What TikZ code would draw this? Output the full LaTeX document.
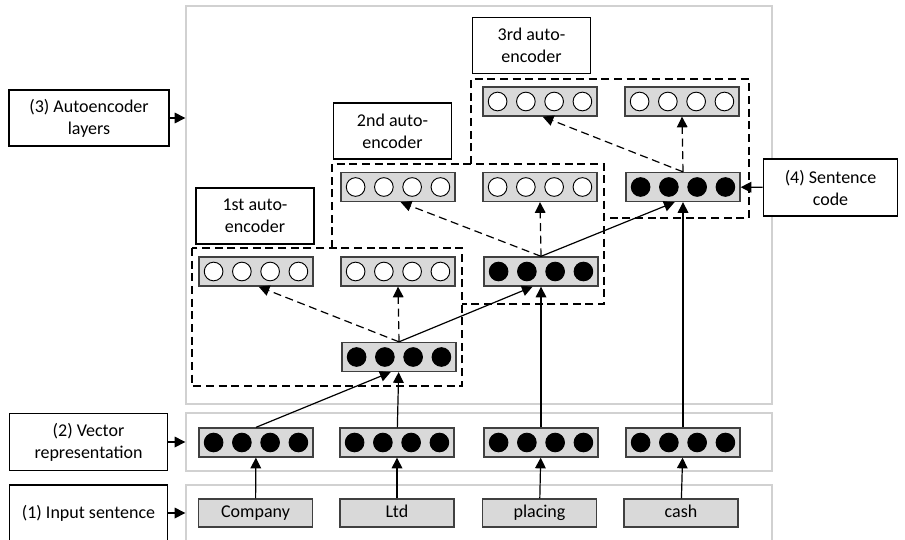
\documentclass[tikz,border=0pt]{standalone}
\usepackage{fontspec}
\setmainfont{Carlito}
\usepackage{tikz}
\usetikzlibrary{arrows.meta}

\begin{document}
\begin{tikzpicture}[x=0.75pt, y=-0.75pt, font=\fontsize{13.5pt}{16.5pt}\selectfont,
  >={Triangle[length=8pt, width=8pt]}]
\tikzstyle{panel}=[draw=black!18, line width=1pt, inner sep=0pt]
\tikzstyle{layer}=[draw=black!75, fill=black!15, line width=1pt, minimum width=85.5pt, minimum height=21.75pt, inner sep=0pt]
\tikzstyle{token}=[layer, minimum height=21pt, text height=0.82em, text depth=0.1em]
\tikzstyle{unit}=[draw, circle, minimum size=14pt, inner sep=0pt, line width=0.7pt]
\tikzstyle{note}=[draw, fill=white, line width=0.8pt, align=center, inner sep=0pt]
\tikzstyle{group}=[line width=0.8pt, dash pattern=on 6pt off 3.5pt]
\tikzstyle{link}=[->, line width=0.9pt]
\tikzstyle{decode}=[dash pattern=on 6pt off 3.5pt]
\useasboundingbox (0,0) rectangle (905,539);

% grey panels
\node[panel, minimum width=439.5pt, minimum height=298.5pt] (top) at (479,205) {};
\node[panel, minimum width=439.5pt, minimum height=43.5pt] (mid) at (479,442) {};
\node[panel, minimum width=439.5pt, minimum height=45pt] (bot) at (479,515) {};

% dashed groups
\draw[group] (192,248) rectangle (462,386);
\draw[group] (332,248) -- (332,164) -- (604,164) -- (604,304) -- (462,304);
\draw[group] (471,164) -- (471,79) -- (749,79) -- (749,218) -- (604,218);

% labels
\node[note, minimum width=120pt, minimum height=42pt] (n3) at (89,118) {(3) Autoencoder\\layers};
\node[note, minimum width=119pt, minimum height=43pt] (n2) at (88.5,442) {(2) Vector\\representation};
\node[note, minimum width=119pt, minimum height=42pt] (n1) at (88.5,513) {(1) Input sentence};
\node[note, minimum width=101pt, minimum height=42.75pt] (n4) at (830.5,187.5) {(4) Sentence\\code};
\node[note, minimum width=88.5pt, minimum height=42pt] (e1) at (255,216) {1st auto-\\encoder};
\node[note, minimum width=88.5pt, minimum height=42pt] (e2) at (392.5,131) {2nd auto-\\encoder};
\node[note, minimum width=88.5pt, minimum height=42pt] (e3) at (531.5,45.5) {3rd auto-\\encoder};

% words
\node[token] (w1) at (255.5,513) {Company};
\node[token] (w2) at (397,513) {Ltd};
\node[token] (w3) at (539.5,513) {placing};
\node[token] (w4) at (681,513) {cash};

% vectors and layers
\node[layer] (v1) at (256,442.5) {};
\node[layer] (v2) at (397,442.5) {};
\node[layer] (v3) at (541,442.5) {};
\node[layer] (v4) at (683,442.5) {};
\node[layer] (h1) at (399,357) {};
\node[layer] (d1a) at (256,271.5) {};
\node[layer] (d1b) at (398,271.5) {};
\node[layer] (h2) at (541,271.5) {};
\node[layer] (d2a) at (398,187) {};
\node[layer] (d2b) at (540,187) {};
\node[layer] (h3) at (683,187) {};
\node[layer] (d3a) at (540,101.5) {};
\node[layer] (d3b) at (682,101.5) {};

\foreach \n/\c in {v1/black, v2/black, v3/black, v4/black, h1/black, h2/black, h3/black,
                   d1a/white, d1b/white, d2a/white, d2b/white, d3a/white, d3b/white}
  \foreach \k in {-1.5,-0.5,0.5,1.5}
    \node[unit, fill=\c] at ([xshift=\k*21.2pt]\n.center) {};

\path[link]
(w1) edge (v1)
(w2) edge (v2)
(w3) edge (v3)
(w4) edge (v4)
(v1.north) edge (h1.-119)
(v2) edge (h1)
(h1.north) edge[decode] (d1a.-80)
           edge[decode] (d1b.south)
           edge (h2.-119)
(v3) edge (h2)
(h2.north) edge[decode] (d2a.-80)
           edge[decode] (d2b.south)
           edge (h3.-119)
(v4) edge (h3)
(h3.north) edge[decode] (d3a.-80)
           edge[decode] (d3b.south)
(n4) edge (h3)
(n3.east) edge (n3.east -| top.west)
(n2.east) edge (n2.east -| mid.west)
(n1.east) edge (n1.east -| bot.west);

\end{tikzpicture}
\end{document}
